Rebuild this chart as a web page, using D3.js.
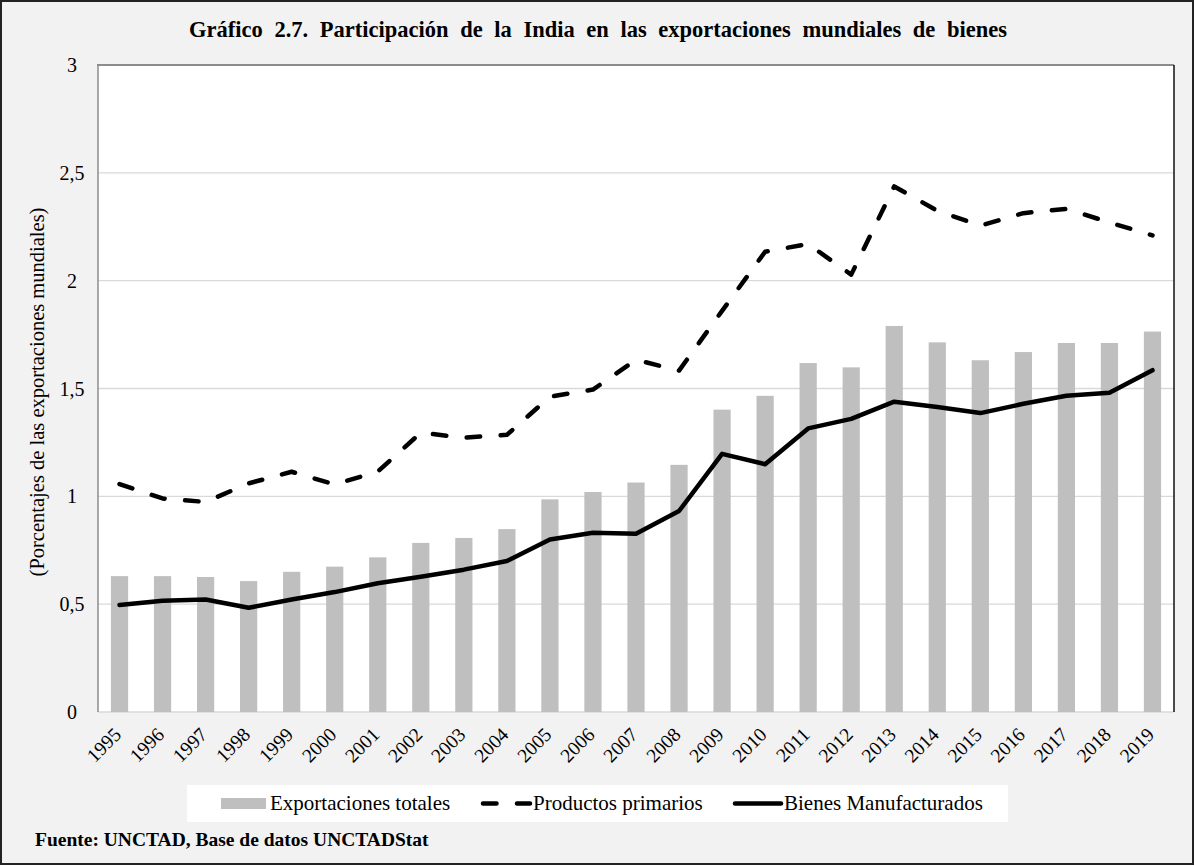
<!DOCTYPE html>
<html>
<head>
<meta charset="utf-8">
<script src="https://cdn.jsdelivr.net/npm/d3@7"></script>
<style>
  body { margin: 0; background: #fff; }
  svg { display: block; font-family: "Liberation Serif", "Times New Roman", serif; }
</style>
</head>
<body>
<svg id="chart" width="1195" height="866"></svg>
<script>
const years = ['1995','1996','1997','1998','1999','2000','2001','2002','2003','2004','2005','2006',
  '2007','2008','2009','2010','2011','2012','2013','2014','2015','2016','2017','2018','2019'];

// Exportaciones totales (barras)
const totales = [0.63, 0.63, 0.626, 0.607, 0.65, 0.674, 0.717, 0.784, 0.807, 0.848, 0.986, 1.02,
  1.064, 1.146, 1.402, 1.466, 1.618, 1.598, 1.79, 1.714, 1.631, 1.669, 1.711, 1.711, 1.764];

// Productos primarios (linea discontinua)
const primarios = [1.057, 0.99, 0.974, 1.06, 1.114, 1.055, 1.115, 1.295, 1.272, 1.285, 1.462, 1.495,
  1.633, 1.583, 1.86, 2.134, 2.17, 2.028, 2.437, 2.324, 2.255, 2.313, 2.333, 2.27, 2.21];

// Bienes manufacturados (linea continua)
const manufacturados = [0.496, 0.516, 0.522, 0.483, 0.522, 0.556, 0.597, 0.627, 0.66, 0.70, 0.80, 0.831,
  0.826, 0.932, 1.197, 1.149, 1.315, 1.359, 1.439, 1.414, 1.386, 1.429, 1.466, 1.48, 1.585];

const yTicks = [0, 0.5, 1, 1.5, 2, 2.5, 3];

const svg = d3.select('#chart');
const W = 1195, H = 866;
const plot = { left: 98, right: 1174, top: 65, bottom: 712 };

// fondo y borde exterior
svg.append('rect')
  .attr('x', 1).attr('y', 1)
  .attr('width', W - 3).attr('height', H - 3)
  .attr('fill', '#f2f2f2')
  .attr('stroke', '#222')
  .attr('stroke-width', 2);

svg.append('text')
  .attr('x', 598)
  .attr('y', 37)
  .attr('text-anchor', 'middle')
  .attr('font-size', '22.5px')
  .attr('font-weight', 'bold')
  .attr('word-spacing', '6px')
  .text('Gráfico 2.7. Participación de la India en las exportaciones mundiales de bienes');

const x = d3.scaleBand()
  .domain(years)
  .range([plot.left, plot.right])
  .paddingInner(0.6)
  .paddingOuter(0.3);

const y = d3.scaleLinear()
  .domain([0, 3])
  .range([plot.bottom, plot.top]);

// area del grafico
svg.append('rect')
  .attr('x', plot.left).attr('y', plot.top)
  .attr('width', plot.right - plot.left)
  .attr('height', plot.bottom - plot.top)
  .attr('fill', '#fff');

// lineas de cuadricula
svg.append('g')
  .selectAll('line')
  .data(yTicks.filter(d => d > 0 && d < 3))
  .enter()
  .append('line')
  .attr('x1', plot.left).attr('x2', plot.right)
  .attr('y1', d => y(d)).attr('y2', d => y(d))
  .attr('stroke', '#d9d9d9')
  .attr('stroke-width', 1.3);

// bordes del area
svg.append('line')
  .attr('x1', plot.left).attr('x2', plot.right)
  .attr('y1', plot.bottom).attr('y2', plot.bottom)
  .attr('stroke', '#d9d9d9').attr('stroke-width', 1.5);
svg.append('line')
  .attr('x1', plot.left - 1).attr('x2', plot.right)
  .attr('y1', plot.top).attr('y2', plot.top)
  .attr('stroke', '#8c8c8c').attr('stroke-width', 2);
svg.append('line')
  .attr('x1', plot.right).attr('x2', plot.right)
  .attr('y1', plot.top).attr('y2', plot.bottom)
  .attr('stroke', '#111').attr('stroke-width', 1.5);

// barras
svg.append('g')
  .selectAll('rect')
  .data(totales)
  .enter()
  .append('rect')
  .attr('x', (d, i) => x(years[i]))
  .attr('y', d => y(d))
  .attr('width', x.bandwidth())
  .attr('height', d => y(0) - y(d))
  .attr('fill', '#bfbfbf');

svg.append('line')
  .attr('x1', plot.left).attr('x2', plot.left)
  .attr('y1', plot.top).attr('y2', plot.bottom)
  .attr('stroke', '#8c8c8c').attr('stroke-width', 1.5);

const line = d3.line()
  .x((d, i) => x(years[i]) + x.bandwidth() / 2)
  .y(d => y(d));

svg.append('path')
  .datum(primarios)
  .attr('d', line)
  .attr('fill', 'none')
  .attr('stroke', '#000')
  .attr('stroke-width', 4.5)
  .attr('stroke-linecap', 'round')
  .attr('stroke-linejoin', 'round')
  .attr('stroke-dasharray', '13.5,20.5');

svg.append('path')
  .datum(manufacturados)
  .attr('d', line)
  .attr('fill', 'none')
  .attr('stroke', '#000')
  .attr('stroke-width', 4.5)
  .attr('stroke-linecap', 'round')
  .attr('stroke-linejoin', 'round');

// eje y
svg.append('g')
  .selectAll('text')
  .data(yTicks)
  .enter()
  .append('text')
  .attr('x', 72)
  .attr('y', d => y(d))
  .attr('dy', '0.35em')
  .attr('text-anchor', 'middle')
  .attr('font-size', '20px')
  .text(d => String(d).replace('.', ','));

svg.append('text')
  .attr('transform', 'translate(44, 392) rotate(-90)')
  .attr('text-anchor', 'middle')
  .attr('font-size', '20.5px')
  .text('(Porcentajes de las exportaciones mundiales)');

// eje x
svg.append('g')
  .selectAll('text')
  .data(years)
  .enter()
  .append('text')
  .attr('transform', d => `translate(${x(d) + x.bandwidth() / 2 - 2}, 731) rotate(-45)`)
  .attr('text-anchor', 'end')
  .attr('dy', '0.35em')
  .attr('font-size', '19.5px')
  .text(d => d);

// leyenda
const legend = svg.append('g');
legend.append('rect')
  .attr('x', 187).attr('y', 785)
  .attr('width', 821).attr('height', 37)
  .attr('fill', '#fff');

legend.append('rect')
  .attr('x', 221).attr('y', 798)
  .attr('width', 45).attr('height', 11)
  .attr('fill', '#bfbfbf');
legend.append('text')
  .attr('x', 270).attr('y', 810)
  .attr('font-size', '21px')
  .text('Exportaciones totales');

legend.append('line')
  .attr('x1', 483).attr('x2', 530)
  .attr('y1', 803.5).attr('y2', 803.5)
  .attr('stroke', '#000')
  .attr('stroke-width', 4.5)
  .attr('stroke-linecap', 'round')
  .attr('stroke-dasharray', '13.5,20.5');
legend.append('text')
  .attr('x', 533).attr('y', 810)
  .attr('font-size', '21px')
  .text('Productos primarios');

legend.append('line')
  .attr('x1', 735).attr('x2', 781)
  .attr('y1', 803.5).attr('y2', 803.5)
  .attr('stroke', '#000')
  .attr('stroke-width', 4.5)
  .attr('stroke-linecap', 'round');
legend.append('text')
  .attr('x', 784).attr('y', 810)
  .attr('font-size', '21px')
  .text('Bienes Manufacturados');

svg.append('text')
  .attr('x', 35).attr('y', 846)
  .attr('font-size', '19.5px')
  .attr('font-weight', 'bold')
  .text('Fuente: UNCTAD, Base de datos UNCTADStat');
</script>
</body>
</html>
